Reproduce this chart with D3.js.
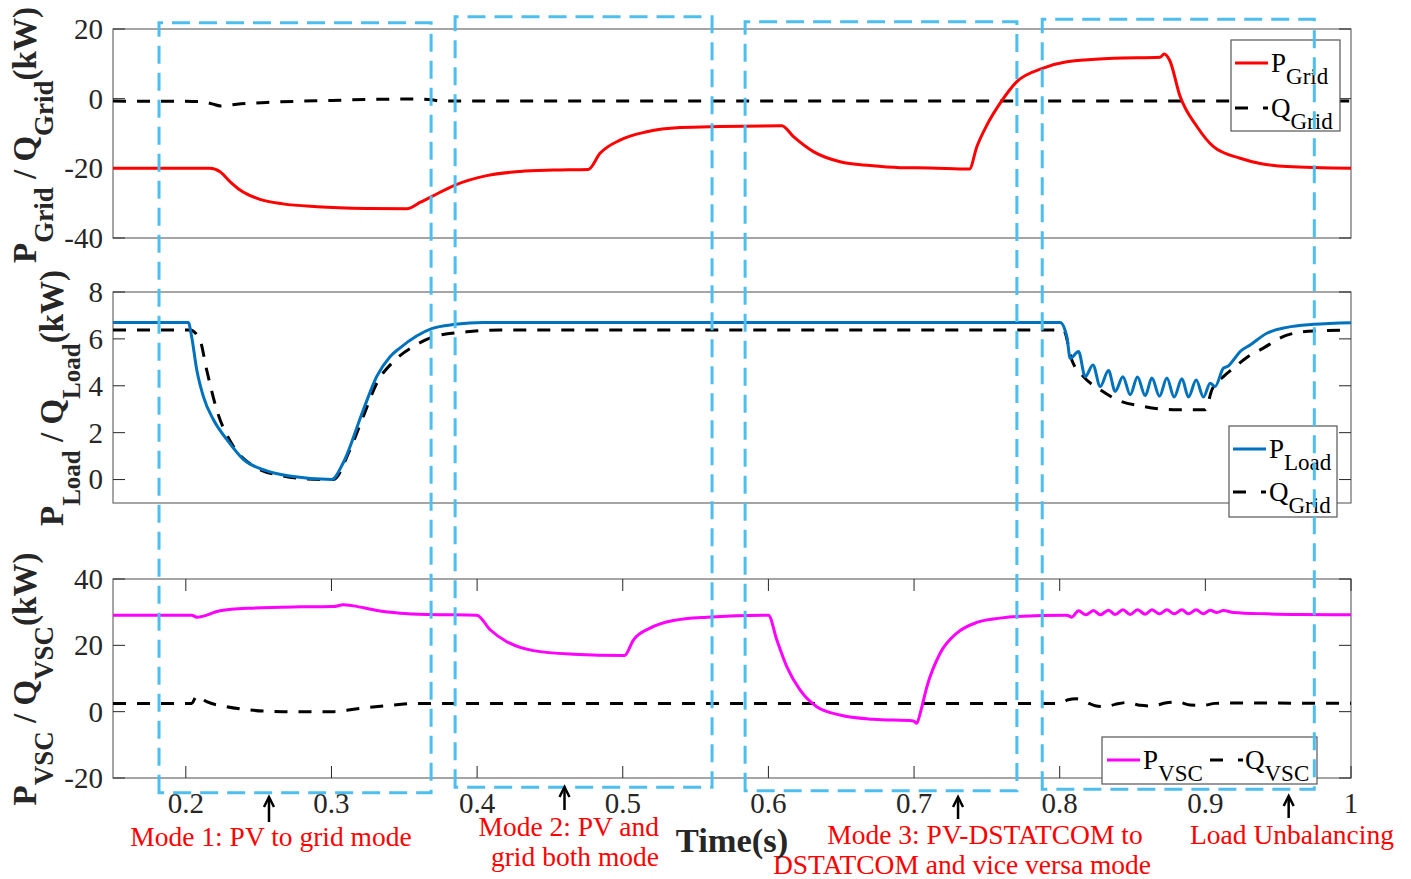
<!DOCTYPE html>
<html><head><meta charset="utf-8">
<script src="https://cdn.jsdelivr.net/npm/d3@7"></script>
<style>
body{margin:0;background:#fff}
svg{display:block}
text{font-family:"Liberation Serif","Times New Roman",serif}
</style>
</head><body>
<svg id="c" width="1411" height="879"></svg>
<script>
// ---------------- DATA ----------------
const xDomain = [0.15, 1];
const xTicks = [0.2, 0.3, 0.4, 0.5, 0.6, 0.7, 0.8, 0.9, 1];
const xTickLabels = ["0.2", "0.3", "0.4", "0.5", "0.6", "0.7", "0.8", "0.9", "1"];

const gridTicks = [20, 0, -20, -40];
const gridTickLabels = ["20", "0", "-20", "-40"];
const loadTicks = [8, 6, 4, 2, 0];
const loadTickLabels = ["8", "6", "4", "2", "0"];
const vscTicks = [40, 20, 0, -20];
const vscTickLabels = ["40", "20", "0", "-20"];

// Panel 1: P_Grid / Q_Grid (kW)
const pGrid = [[0.15,-20],[0.2166,-20],[0.2235,-21],[0.2303,-23.8],[0.2372,-26.2],[0.2509,-28.9],[0.2667,-30.2],
  [0.2901,-31],[0.3244,-31.5],[0.3517,-31.6],[0.3608,-29.8],[0.3688,-28.1],[0.3849,-24.8],[0.4066,-22.1],
  [0.4295,-20.9],[0.4521,-20.5],[0.4764,-20.3],[0.4844,-15.7],[0.4981,-11.9],[0.5165,-9.5],[0.5393,-8.3],
  [0.5668,-8.0],[0.6092,-7.8],[0.6172,-10.9],[0.6309,-15.2],[0.6492,-18.1],[0.6698,-19.2],[0.6904,-19.8],
  [0.7110,-19.9],[0.7380,-20.2],[0.7431,-13.8],[0.7500,-7.6],[0.7591,-1.3],[0.7706,4.9],[0.7882,8.7],
  [0.8049,10.6],[0.8369,11.6],[0.8690,11.9],[0.8717,12.8],[0.8754,11.1],[0.8827,0.6],[0.8942,-8.0],
  [0.9056,-13.8],[0.9239,-17.1],[0.9376,-18.6],[0.9560,-19.5],[1.0,-20]];
const qGrid = [[0.15,-0.7],[0.21,-0.8],[0.218,-1.5],[0.224,-2.1],[0.235,-1.6],[0.26,-1.0],[0.30,-0.5],
  [0.33,-0.2],[0.36,-0.1],[0.37,-0.4],[0.375,-0.7],[1.0,-0.7]];

// Panel 2: P_Load / Q_Load (kW)
const pLoad = [[0.15,6.7],[0.2017,6.7],[0.2040,6.09],[0.2075,4.68],[0.2120,3.55],[0.2189,2.56],[0.2281,1.71],
  [0.2395,0.86],[0.2555,0.37],[0.2738,0.13],[0.3002,0.0],[0.3081,0.72],[0.3219,2.98],[0.3311,4.40],
  [0.3402,5.24],[0.3471,5.62],[0.3688,6.44],[0.3849,6.62],[0.4043,6.7],[0.8003,6.7],[0.8049,6.09],
  [0.8072,5.17],[0.8129,5.46],[0.8175,4.39],[0.8228,4.89],[0.8278,3.97],[0.8335,4.65],[0.8381,3.76],
  [0.8434,4.39],[0.8484,3.62],[0.8534,4.37],[0.8587,3.58],[0.8633,4.33],[0.8685,3.55],[0.8736,4.33],
  [0.8786,3.52],[0.8839,4.30],[0.8884,3.52],[0.8937,4.25],[0.8987,3.52],[0.9033,4.11],[0.9067,3.97],
  [0.9124,4.75],[0.9159,4.85],[0.9193,5.10],[0.9239,5.46],[0.9308,5.74],[0.9422,6.24],[0.9560,6.49],
  [0.9743,6.62],[1.0,6.69]];
const qLoad = [[0.15,6.38],[0.2029,6.38],[0.2097,5.95],[0.2143,4.68],[0.2212,2.98],[0.2326,1.42],[0.2463,0.58],
  [0.2669,0.15],[0.2921,0.0],[0.3013,0.0],[0.3127,1.28],[0.3219,2.7],[0.3311,4.11],[0.3425,5.03],
  [0.3562,5.67],[0.3700,6.09],[0.3929,6.30],[0.4158,6.38],[0.8026,6.38],[0.8083,5.1],[0.8163,4.39],
  [0.8278,3.83],[0.8392,3.41],[0.8575,3.12],[0.8781,2.98],[0.8999,2.98],[0.9045,3.83],[0.9124,4.39],
  [0.9193,4.75],[0.9308,5.31],[0.9376,5.53],[0.9560,6.16],[0.9743,6.34],[1.0,6.38]];

// Panel 3: P_VSC / Q_VSC (kW)
const pVsc = [[0.15,29.1],[0.2040,29.1],[0.2075,28.5],[0.2235,30.4],[0.2441,31.2],[0.2784,31.6],[0.3013,31.7],
  [0.3081,32.2],[0.3150,31.9],[0.3311,30.5],[0.3471,29.7],[0.3677,29.3],[0.3998,29.1],[0.4089,24.7],
  [0.4204,21.1],[0.4386,18.4],[0.4661,17.3],[0.5011,16.9],[0.5073,21.6],[0.5188,25.2],[0.5348,27.5],
  [0.5577,28.5],[0.6000,29.1],[0.6058,21.6],[0.6126,13.6],[0.6218,6.5],[0.6332,1.5],[0.6492,-1.0],
  [0.6721,-2.3],[0.6996,-2.8],[0.7019,-3.5],[0.7042,-0.5],[0.7088,7.5],[0.7179,17.6],[0.7294,23.7],
  [0.7431,26.9],[0.7591,28.2],[0.7706,28.7],[0.8049,29.1],[0.8083,28.5],[0.8129,30.4],[0.8180,29.2],
  [0.8232,30.5],[0.8278,29.2],[0.8335,30.6],[0.8381,29.3],[0.8434,30.7],[0.8484,29.3],[0.8534,30.7],
  [0.8587,29.4],[0.8633,30.7],[0.8685,29.5],[0.8736,30.7],[0.8786,29.5],[0.8839,30.7],[0.8884,29.5],
  [0.8937,30.7],[0.8987,29.5],[0.9033,30.6],[0.9079,29.9],[0.9124,30.5],[0.9193,29.9],[0.9422,29.5],
  [0.9651,29.3],[1.0,29.2]];
const qVsc = [[0.15,2.5],[0.2040,2.5],[0.2075,4.7],[0.2143,3.0],[0.2281,1.5],[0.2441,0.5],[0.2669,0.0],
  [0.3013,0.0],[0.3196,1.0],[0.3356,1.7],[0.3585,2.5],[0.8003,2.5],[0.8058,3.6],[0.8113,3.9],[0.8175,3.0],
  [0.8243,1.8],[0.8312,1.5],[0.8381,2.2],[0.8470,2.8],[0.8552,1.9],[0.8635,1.7],[0.8724,2.6],[0.8813,2.9],
  [0.8896,2.0],[0.8985,1.9],[0.9067,2.5],[0.9170,2.6],[1.0,2.5]];

// Mode boxes (time extents)
const modeStart = [0.1816, 0.3849, 0.5840, 0.7880];
const modeEnd   = [0.3684, 0.5613, 0.7706, 0.9748];

// Annotation texts
const modeLabels = [
  ["Mode 1: PV to grid mode"],
  ["Mode 2: PV and", "grid both mode"],
  ["Mode 3: PV-DSTATCOM to", "DSTATCOM and vice versa mode"],
  ["Load Unbalancing"]
];
const arrowTimes = [0.2571, 0.4600, 0.7302, 0.9572];

// ---------------- LAYOUT ----------------
const svg = d3.select("#c");
const L = 113, R = 1351;
const x = d3.scaleLinear().domain(xDomain).range([L, R]);
const panels = [
  {top: 29, bottom: 238, domain: [-40, 20], ticks: gridTicks, labels: gridTickLabels, xt: false},
  {top: 292, bottom: 503, domain: [-1, 8], ticks: loadTicks, labels: loadTickLabels, xt: false},
  {top: 579, bottom: 778, domain: [-20, 40], ticks: vscTicks, labels: vscTickLabels, xt: true}
];
panels.forEach(p => p.y = d3.scaleLinear().domain(p.domain).range([p.bottom, p.top]));

const TICK = 12, AX = "#262626", TF = 29;
panels.forEach((p, i) => {
  const g = svg.append("g");
  svg.append("clipPath").attr("id", "clip" + i).append("rect")
    .attr("x", L).attr("y", p.top).attr("width", R - L).attr("height", p.bottom - p.top);
  g.append("rect").attr("x", L).attr("y", p.top).attr("width", R - L).attr("height", p.bottom - p.top)
    .attr("fill", "none").attr("stroke", "#6a6a6a").attr("stroke-width", 1.2);
  p.ticks.forEach((t, k) => {
    const yy = p.y(t);
    g.append("line").attr("x1", L).attr("x2", L + TICK).attr("y1", yy).attr("y2", yy).attr("stroke", AX).attr("stroke-width", 1);
    g.append("line").attr("x1", R).attr("x2", R - TICK).attr("y1", yy).attr("y2", yy).attr("stroke", AX).attr("stroke-width", 1);
    g.append("text").attr("x", 103).attr("y", yy).attr("dy", "0.34em").attr("text-anchor", "end")
      .attr("font-size", TF).attr("fill", AX).text(p.labels[k]);
  });
  if (p.xt) {
    xTicks.forEach((t, k) => {
      const xx = x(t);
      g.append("line").attr("x1", xx).attr("x2", xx).attr("y1", p.bottom).attr("y2", p.bottom - TICK).attr("stroke", AX);
      g.append("line").attr("x1", xx).attr("x2", xx).attr("y1", p.top).attr("y2", p.top + TICK).attr("stroke", AX);
      g.append("text").attr("x", xx).attr("y", 813).attr("text-anchor", "middle")
        .attr("font-size", TF).attr("fill", AX).text(xTickLabels[k]);
    });
  }
});

function drawLine(pi, data, color, dashed) {
  const p = panels[pi];
  const line = d3.line().x(d => x(d[0])).y(d => p.y(d[1])).curve(d3.curveMonotoneX);
  svg.append("path").datum(data).attr("d", line).attr("fill", "none")
    .attr("stroke", color).attr("stroke-width", 3).attr("stroke-linejoin", "round")
    .attr("stroke-dasharray", dashed ? "13,11" : null)
    .attr("clip-path", "url(#clip" + pi + ")");
}
drawLine(0, qGrid, "#000", true);
drawLine(0, pGrid, "#ff0000", false);
drawLine(1, qLoad, "#000", true);
drawLine(1, pLoad, "#0072bd", false);
drawLine(2, qVsc, "#000", true);
drawLine(2, pVsc, "#ff00ff", false);

function rich(sel, parts, mainSize, subSize, shift) {
  let cur = 0;
  parts.forEach(([txt, sub]) => {
    const target = sub ? shift : 0;
    sel.append("tspan").attr("dy", target - cur).attr("font-size", sub ? subSize : mainSize).text(txt);
    cur = target;
  });
}

const yLabels = [
  {x: 36, y: 135, parts: [["P",0],["Grid",1],[" / ",0],["Q",0],["Grid",1],["(kW)",0]], sub: 27},
  {x: 63, y: 398, parts: [["P",0],["Load",1],[" / ",0],["Q",0],["Load",1],["(kW)",0]], sub: 25},
  {x: 36, y: 679, parts: [["P",0],["VSC",1],[" / ",0],["Q",0],["VSC",1],["(kW)",0]], sub: 27}
];
yLabels.forEach(l => {
  const t = svg.append("text").attr("transform", `translate(${l.x},${l.y}) rotate(-90)`)
    .attr("text-anchor", "middle").attr("font-weight", "bold").attr("fill", AX);
  rich(t, l.parts, 33, l.sub, 17);
});

function legendBox(x0, y0, w, h) {
  svg.append("rect").attr("x", x0).attr("y", y0).attr("width", w).attr("height", h)
    .attr("fill", "#fff").attr("stroke", "#555").attr("stroke-width", 1.2);
}
function legendLine(x1, x2, yy, color, dashed) {
  svg.append("line").attr("x1", x1).attr("x2", x2).attr("y1", yy).attr("y2", yy)
    .attr("stroke", color).attr("stroke-width", 3).attr("stroke-dasharray", dashed ? "13,15" : null);
}
function legendText(x0, yy, parts) {
  const t = svg.append("text").attr("x", x0).attr("y", yy).attr("fill", "#000");
  rich(t, parts, 27, 23, 12);
}
legendBox(1231, 40, 109, 91);
legendLine(1235, 1268, 63, "#ff0000", false);
legendText(1271, 72, [["P",0],["Grid",1]]);
legendLine(1235, 1268, 108, "#000", true);
legendText(1271, 117, [["Q",0],["Grid",1]]);
legendBox(1229, 426, 108, 91);
legendLine(1233, 1266, 449, "#0072bd", false);
legendText(1269, 458, [["P",0],["Load",1]]);
legendLine(1233, 1266, 492, "#000", true);
legendText(1269, 501, [["Q",0],["Grid",1]]);
legendBox(1102, 737, 215, 47);
legendLine(1107, 1140, 760, "#ff00ff", false);
legendText(1143, 769, [["P",0],["VSC",1]]);
legendLine(1210, 1243, 760, "#000", true);
legendText(1245, 769, [["Q",0],["VSC",1]]);

const boxTop = [22.7, 16.7, 21.7, 19.3];
const boxBottom = [792.7, 787.3, 790.7, 789.3];
modeStart.forEach((s, i) => {
  const x0 = x(s), x1 = x(modeEnd[i]);
  svg.append("path")
    .attr("d", `M${x0},${boxBottom[i]} L${x0},${boxTop[i]} L${x1},${boxTop[i]} L${x1},${boxBottom[i]} Z`)
    .attr("fill", "none").attr("stroke", "#4dbeee").attr("stroke-width", 3)
    .attr("stroke-dasharray", "18,9");
});

const arrowTip = [797, 787, 797, 796];
const arrowBase = [822, 810, 819, 818];
arrowTimes.forEach((t, i) => {
  const xx = x(t);
  svg.append("path").attr("d", `M${xx},${arrowBase[i]} L${xx},${arrowTip[i] + 2}`)
    .attr("stroke", "#000").attr("stroke-width", 2.5).attr("fill", "none");
  svg.append("path").attr("d", `M${xx - 5},${arrowTip[i] + 10} L${xx},${arrowTip[i]} L${xx + 5},${arrowTip[i] + 10}`)
    .attr("stroke", "#000").attr("stroke-width", 2.5).attr("fill", "none").attr("stroke-linejoin", "miter");
});

const annPos = [
  [{x: 271, y: 846, a: "middle"}],
  [{x: 659, y: 836, a: "end"}, {x: 659, y: 866, a: "end"}],
  [{x: 985, y: 844, a: "middle"}, {x: 962, y: 874, a: "middle"}],
  [{x: 1292, y: 844, a: "middle"}]
];
modeLabels.forEach((lines, i) => {
  lines.forEach((s, j) => {
    const p = annPos[i][j];
    svg.append("text").attr("x", p.x).attr("y", p.y).attr("text-anchor", p.a)
      .attr("font-size", 27.5).attr("fill", "#ff0000").text(s);
  });
});

svg.append("text").attr("x", 732).attr("y", 852).attr("text-anchor", "middle")
  .attr("font-size", 34.5).attr("font-weight", "bold").attr("fill", AX).text("Time(s)");
</script>
</body></html>
